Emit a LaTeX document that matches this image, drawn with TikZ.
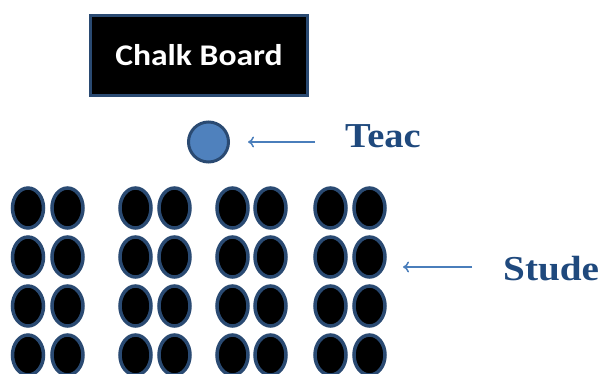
\documentclass[tikz,border=0pt]{standalone}
\usepackage{fontspec}
\usetikzlibrary{arrows.meta,shapes.geometric}
\newfontfamily\boardfont{Carlito}
\newfontfamily\labelfont{Liberation Serif}
\definecolor{edgeblue}{HTML}{2A4A72}
\definecolor{teachblue}{HTML}{4F81BD}
\definecolor{arrowblue}{HTML}{4A7EBB}
\definecolor{textblue}{HTML}{1F497D}
\begin{document}
\begin{tikzpicture}[x=1pt,y=-1pt,
  student/.style={ellipse, draw=edgeblue, fill=black, line width=3.5pt, minimum width=31pt, minimum height=40pt, inner sep=0pt},
  pointer/.style={draw=arrowblue, line width=1.5pt, -{To[length=6pt,width=11pt]}},
  labeltext/.style={font=\labelfont\bfseries\fontsize{35}{35}\selectfont, text=textblue, inner sep=0pt}]
\useasboundingbox (0,0) rectangle (600,373);
\node[draw=edgeblue, fill=black, line width=3pt, minimum width=217pt, minimum height=80pt, inner sep=0pt,
  text=white, font=\boardfont\bfseries\fontsize{30}{30}\selectfont] (board) at (199,55) {\scalebox{1.12}[1]{Chalk Board}};
\node[circle, draw=edgeblue, fill=teachblue, line width=3pt, minimum size=40pt, inner sep=0pt] (teacher) at (208.5,142) {};
\coordinate (ta) at (315,142);
\coordinate (tb) at (248,142);
\draw[pointer] (ta) -- (tb);
\node[labeltext, anchor=base west] (tlabel) at (345,147) {\scalebox{1.1}[1]{Teac}};
\foreach \r/\y in {1/208,2/257,3/306,4/355}{
  \foreach \c/\x in {1/28,2/67.5,3/135.5,4/174.5,5/232.5,6/270.5,7/330.5,8/369.5}{
    \node[student] (s-\r-\c) at (\x,\y) {};
  }
}
\coordinate (sa) at (472,267);
\coordinate (sb) at (403,267);
\draw[pointer] (sa) -- (sb);
\node[labeltext, anchor=base west] (slabel) at (503,280) {\scalebox{1.12}[1]{Stude}};
\end{tikzpicture}
\end{document}
